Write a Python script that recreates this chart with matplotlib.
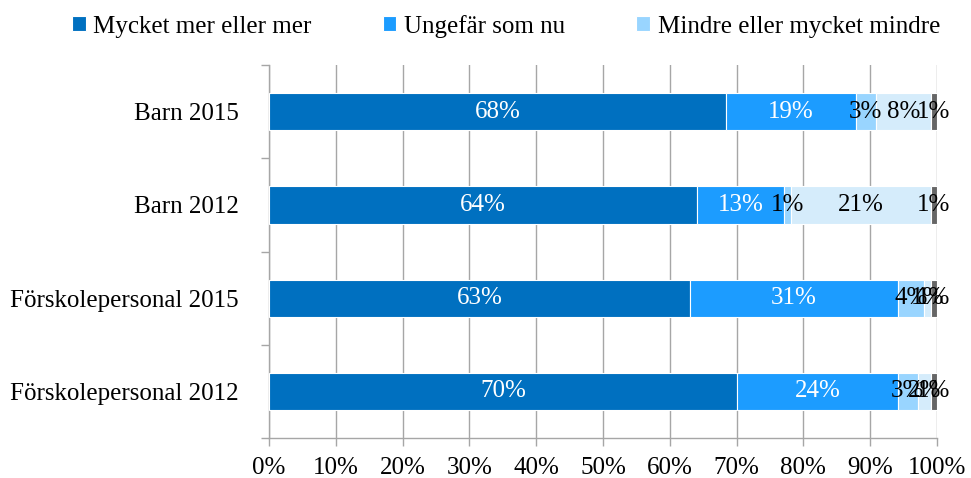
import matplotlib
matplotlib.use("Agg")
import matplotlib.pyplot as plt
import numpy as np

plt.rcParams['font.family'] = ['Liberation Serif', 'DejaVu Serif']

categories = ["Barn 2015", "Barn 2012", "Förskolepersonal 2015", "Förskolepersonal 2012"]
series_names = ["Mycket mer eller mer", "Ungefär som nu", "Mindre eller mycket mindre",
                "Vet ej", "Ej svar"]
mer = [68.4, 64.1, 63.0, 70.1]
som_nu = [19.4, 13.0, 31.1, 24.0]
mindre = [3.1, 1.0, 4.0, 3.0]
vet_ej = [8.2, 21.0, 1.0, 2.0]
ej_svar = [0.9, 0.9, 0.9, 0.9]

COLORS = ["#0070C0", "#1C9CFF", "#99D5FF", "#D5ECFB", "#666666"]
TEXT_COLORS = ["white", "white", "black", "black", "black"]

fig = plt.figure(figsize=(9.71, 4.78), dpi=100)
ax = fig.add_axes([0.277, 0.0837, 0.688, 0.780])

y = np.arange(len(categories))
left = np.zeros(len(categories))
handles = []
for vals, name, col, tcol in zip([mer, som_nu, mindre, vet_ej, ej_svar], series_names,
                                 COLORS, TEXT_COLORS):
    vals = np.array(vals)
    bars = ax.barh(y, vals, left=left, height=0.4, color=col, edgecolor='white',
                   linewidth=0.8, zorder=3, label=name)
    handles.append(bars)
    # labels centred in each segment, overlapping where segments are thin (as in source)
    for yi, l, v in zip(y, left, vals):
        ax.text(l + v / 2, yi, f"{v:.0f}%", ha='center', va='center', color=tcol,
                fontsize=18, zorder=4)
    left += vals

ax.set_xlim(0, 100)
ax.set_ylim(len(categories) - 0.5, -0.5)
ax.set_xticks(np.arange(0, 101, 10))
ax.set_xticklabels([f"{t}%" for t in range(0, 101, 10)], fontsize=18)
ax.set_yticks(y)
ax.set_yticklabels(categories, fontsize=18)
ax.set_yticks(np.arange(-0.5, len(categories), 1), minor=True)
ax.tick_params(axis='y', which='major', length=0, pad=22)
ax.tick_params(axis='y', which='minor', length=6, color='#a6a6a6', width=1)
ax.tick_params(axis='x', length=6, color='#a6a6a6', width=1, pad=8)
ax.grid(axis='x', color='#a6a6a6', linewidth=1, zorder=0)
for s in ['top', 'right']:
    ax.spines[s].set_visible(False)
for s in ['left', 'bottom']:
    ax.spines[s].set_color('#a6a6a6')
    ax.spines[s].set_linewidth(1)

fig.legend(handles[:3], series_names[:3], loc='center', bbox_to_anchor=(0.521, 0.945),
           ncol=3, frameon=False, fontsize=18, handlelength=0.55, handleheight=0.55,
           handletextpad=0.3, columnspacing=2.85)

fig.savefig("out.png", dpi=100)
